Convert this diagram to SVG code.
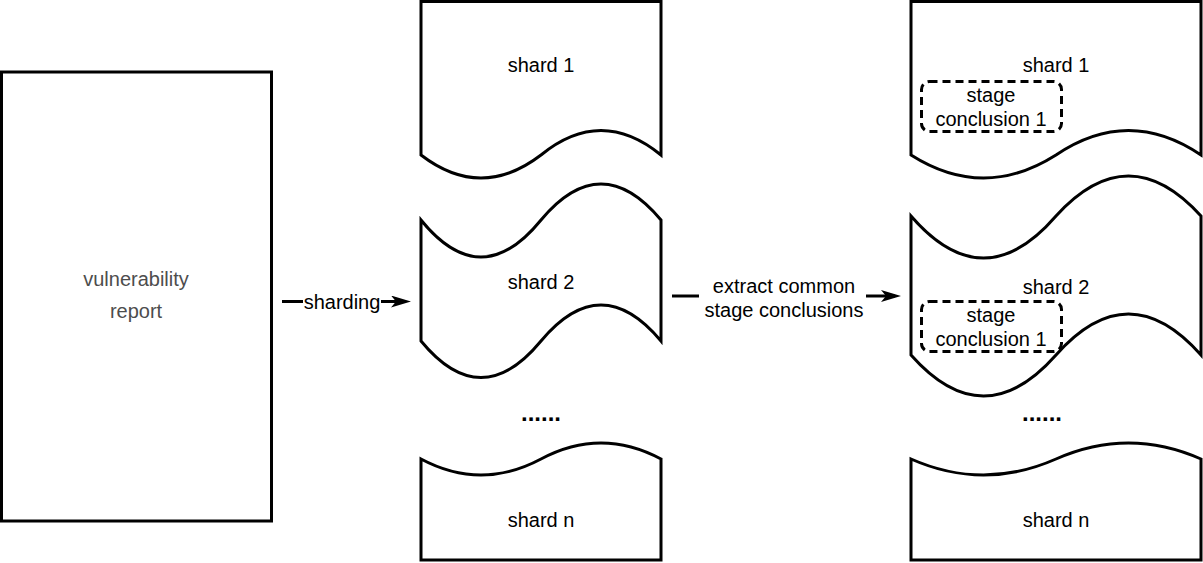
<svg xmlns="http://www.w3.org/2000/svg" width="1203" height="563" viewBox="0 0 1203 563">
<style>
.shape{fill:#ffffff;stroke:#000000;stroke-width:3;stroke-linejoin:miter}
.dash{fill:none;stroke:#000000;stroke-width:3;stroke-dasharray:8 5}
.t{font-family:"Liberation Sans",Arial,sans-serif;font-size:20px;fill:#000000;text-anchor:middle;dominant-baseline:central}
.g{fill:#4d4d4d}
.dots{font-weight:bold;font-size:24px;dominant-baseline:auto}
.line{fill:none;stroke:#000000;stroke-width:3}
</style>
<defs>
<marker id="arrow" markerUnits="userSpaceOnUse" viewBox="0 0 20 12" refX="14" refY="6" markerWidth="20" markerHeight="12" orient="auto">
<path d="M0,0 L20,6 L0,12 L5,6 Z" fill="#000000"/>
</marker>
</defs>
<rect width="1203" height="563" fill="#ffffff"/>

<g id="report">
<rect class="shape" x="1.5" y="72" width="270" height="449"/>
<text class="t g" x="136" y="279">vulnerability</text>
<text class="t g" x="136" y="311">report</text>
</g>

<g id="shard1-mid">
<path class="shape" d="M421,1.5 H661 V155 Q601,106 541,155 Q481,201 421,155 Z"/>
<text class="t" x="541" y="65">shard 1</text>
</g>

<g id="shard2-mid">
<path class="shape" d="M421,220 Q481,294 541,220 Q601,148 661,220 V341 Q601,269 541,341 Q481,414 421,341 Z"/>
<text class="t" x="541" y="282">shard 2</text>
</g>

<g id="dots-mid">
<text class="t dots" x="541" y="421">......</text>
</g>

<g id="shardn-mid">
<path class="shape" d="M421,459 Q481,491 541,459 Q601,427 661,459 V560 H421 Z"/>
<text class="t" x="541" y="520">shard n</text>
</g>

<g id="shard1-right">
<path class="shape" d="M911,1.5 H1201 V155 Q1128.5,106 1056,155 Q983.5,201 911,155 Z"/>
<text class="t" x="1056" y="65">shard 1</text>
</g>

<g id="conclusion1-a">
<rect class="dash" x="921.5" y="81.5" width="140" height="50" rx="8"/>
<text class="t" x="991" y="95">stage</text>
<text class="t" x="991" y="119">conclusion 1</text>
</g>

<g id="shard2-right">
<path class="shape" d="M911,216 Q983.5,300 1056,216 Q1128.5,136 1201,216 V355 Q1128.5,273 1056,355 Q983.5,437 911,355 Z"/>
<text class="t" x="1056" y="287">shard 2</text>
</g>

<g id="conclusion1-b">
<rect class="dash" x="921.5" y="301.5" width="140" height="50" rx="8"/>
<text class="t" x="991" y="315">stage</text>
<text class="t" x="991" y="339">conclusion 1</text>
</g>

<g id="dots-right">
<text class="t dots" x="1042" y="421">......</text>
</g>

<g id="shardn-right">
<path class="shape" d="M911,459 Q983.5,491 1056,459 Q1128.5,427 1201,459 V560 H911 Z"/>
<text class="t" x="1056" y="520">shard n</text>
</g>

<g id="connectors">
<line class="line" x1="282" y1="301.5" x2="303" y2="301.5"/>
<line class="line" x1="381" y1="301.5" x2="405" y2="301.5" marker-end="url(#arrow)"/>
<text class="t" x="342" y="302">sharding</text>
<line class="line" x1="672" y1="296" x2="699" y2="296"/>
<line class="line" x1="866" y1="296" x2="895" y2="296" marker-end="url(#arrow)"/>
<text class="t" x="784" y="286">extract common</text>
<text class="t" x="784" y="310">stage conclusions</text>
</g>
</svg>
